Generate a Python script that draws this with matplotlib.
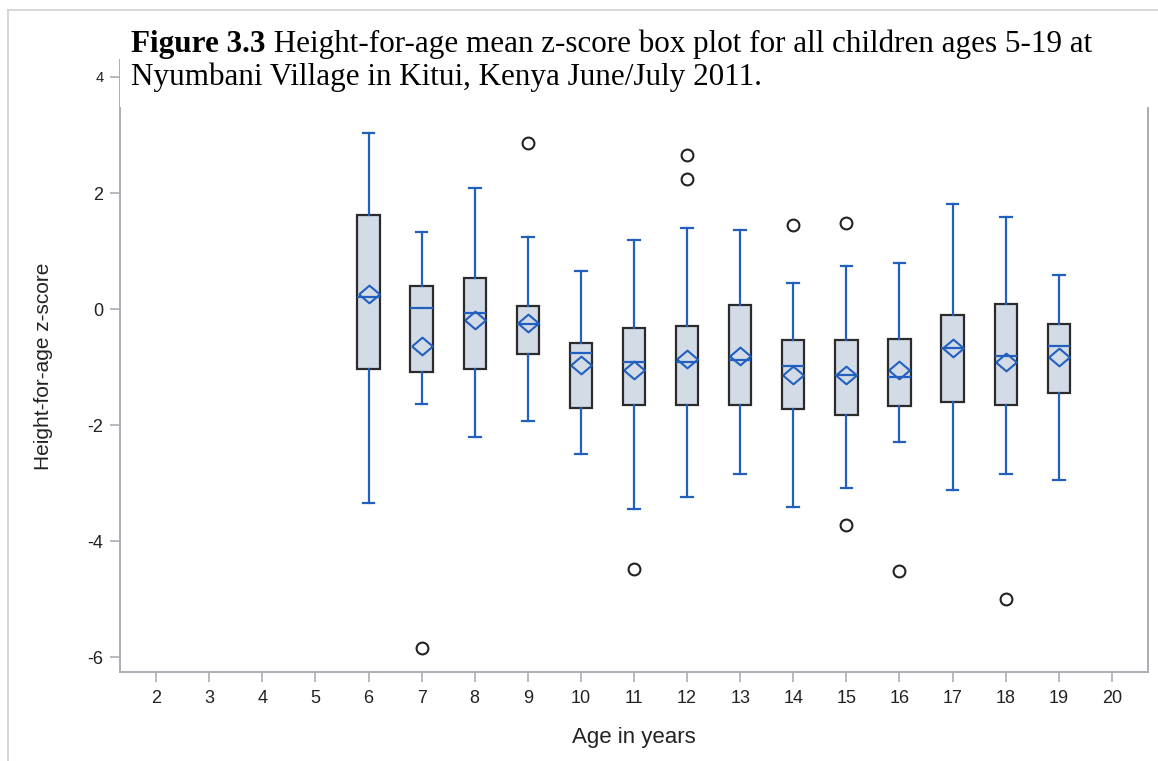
import matplotlib
matplotlib.use("Agg")
import matplotlib.pyplot as plt
from matplotlib.patches import Rectangle
from matplotlib.lines import Line2D

# ---- data ----
ages = [6, 7, 8, 9, 10, 11, 12, 13, 14, 15, 16, 17, 18, 19]
q3 = [1.62, 0.39, 0.53, 0.06, -0.58, -0.32, -0.29, 0.07, -0.53, -0.53, -0.51, -0.10, 0.09, -0.26]
median = [0.21, 0.01, -0.07, -0.26, -0.75, -0.91, -0.91, -0.88, -0.99, -1.14, -1.17, -0.68, -0.81, -0.64]
q1 = [-1.03, -1.08, -1.03, -0.78, -1.71, -1.66, -1.66, -1.66, -1.73, -1.82, -1.68, -1.60, -1.66, -1.44]
mean = [0.26, -0.64, -0.19, -0.24, -0.97, -1.05, -0.87, -0.81, -1.14, -1.14, -1.05, -0.67, -0.91, -0.82]
whisker_hi = [3.03, 1.32, 2.08, 1.24, 0.66, 1.19, 1.40, 1.37, 0.44, 0.74, 0.80, 1.81, 1.59, 0.58]
whisker_lo = [-3.34, -1.63, -2.20, -1.93, -2.50, -3.45, -3.24, -2.84, -3.41, -3.09, -2.30, -3.12, -2.85, -2.95]
outliers = [[], [-5.84], [], [2.86], [], [-4.48], [2.66, 2.24], [], [1.45], [1.48, -3.72],
            [-4.52], [], [-5.0], []]
x_ticks = list(range(2, 21))
y_ticks = [-6, -4, -2, 0, 2, 4]
caption_bold = "Figure 3.3"
caption_rest = " Height-for-age mean z-score box plot for all children ages 5-19 at"
caption_line2 = "Nyumbani Village in Kitui, Kenya June/July 2011."
x_label = "Age in years"
y_label = "Height-for-age z-score"

# ---- styling ----
W, H = 1158, 761
blue = "#2160be"
fill = "#d3dbe7"
edge = "#2b2b2b"
spine_col = "#a9aeb5"
txt_col = "#222222"
cap_size = 22.4

fig = plt.figure(figsize=(W / 100, H / 100), dpi=100)
fig.patch.set_facecolor("white")

ax_left, ax_right = 120, 1148
ax_bottom, ax_top = 672, 60
ax = fig.add_axes([ax_left / W, 1 - ax_bottom / H, (ax_right - ax_left) / W, (ax_bottom - ax_top) / H])

# pixel -> value mapping: y_px = 309 - 58*v
ax.set_ylim((309 - ax_bottom) / 58.0, (309 - ax_top) / 58.0)
ax.set_xlim(1.32, 20.68)

stats = []
for i, a in enumerate(ages):
    stats.append(dict(med=median[i], q1=q1[i], q3=q3[i], whislo=whisker_lo[i],
                      whishi=whisker_hi[i], mean=mean[i], fliers=outliers[i], label=str(a)))

diamond = [(-1, 0), (0, 0.85), (1, 0), (0, -0.85), (-1, 0)]
ax.bxp(stats, positions=ages, widths=0.42, patch_artist=True, showmeans=True,
       showfliers=True, manage_ticks=False,
       boxprops=dict(facecolor=fill, edgecolor=edge, linewidth=1.6),
       whiskerprops=dict(color=blue, linewidth=1.6),
       capprops=dict(color=blue, linewidth=1.6),
       capwidths=0.22,
       medianprops=dict(color=blue, linewidth=1.6),
       meanprops=dict(marker=diamond, markerfacecolor="none", markeredgecolor=blue,
                      markeredgewidth=1.5, markersize=15),
       flierprops=dict(marker="o", markerfacecolor="none", markeredgecolor="#222222",
                       markeredgewidth=1.5, markersize=8.5))

ax.set_xticks(x_ticks)
ax.set_xticklabels([str(t) for t in x_ticks])
ax.set_yticks(y_ticks)
ax.set_yticklabels([str(t) for t in y_ticks])

for s in ax.spines.values():
    s.set_color(spine_col)
    s.set_linewidth(1.4)
ax.tick_params(axis="both", colors=spine_col, labelcolor=txt_col, labelsize=13,
               length=7, width=1.2, direction="out")
ax.tick_params(axis="x", pad=6)
ax.tick_params(axis="y", pad=5)
for lbl in ax.get_xticklabels() + ax.get_yticklabels():
    lbl.set_fontfamily("Liberation Sans")
for lbl, t in zip(ax.get_yticklabels(), y_ticks):
    if t == 4:
        lbl.set_fontsize(10.5)

ax.set_xlabel(x_label, fontsize=16, color=txt_col, family="Liberation Sans", labelpad=14)
ax.set_ylabel(y_label, fontsize=15, color=txt_col, family="Liberation Sans", labelpad=25)

# white caption box overlaying the top of the chart
fig.add_artist(Rectangle((119.5 / W, 1 - 106.5 / H), 1 - 119.5 / W, 106.5 / H,
                         transform=fig.transFigure, facecolor="white", edgecolor="none",
                         zorder=10))

# caption text
t1 = fig.text(131 / W, 1 - 52 / H, caption_bold, fontsize=cap_size, family="Liberation Serif",
              fontweight="bold", color="black", zorder=11, va="baseline")
fig.canvas.draw()
bb = t1.get_window_extent()
fig.text(bb.x1 / W, 1 - 52 / H, caption_rest, fontsize=cap_size, family="Liberation Serif",
         color="black", zorder=11, va="baseline")
fig.text(131 / W, 1 - 85 / H, caption_line2, fontsize=cap_size, family="Liberation Serif",
         color="black", zorder=11, va="baseline")

# outer thin border (top and left)
fig.add_artist(Line2D([8 / W, 1], [1 - 10 / H, 1 - 10 / H], transform=fig.transFigure,
                      color="#d0d0d0", linewidth=1.2, zorder=12))
fig.add_artist(Line2D([8 / W, 8 / W], [0, 1 - 10 / H], transform=fig.transFigure,
                      color="#d0d0d0", linewidth=1.2, zorder=12))

fig.savefig("out.png", dpi=100, facecolor="white")
